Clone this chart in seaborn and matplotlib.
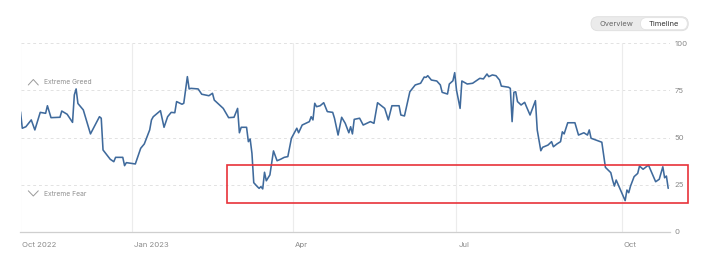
import numpy as np
import pandas as pd
import matplotlib
matplotlib.use("Agg")
import matplotlib.pyplot as plt
import matplotlib.dates as mdates
import matplotlib.transforms as mtransforms
from matplotlib.patches import Rectangle, FancyBboxPatch
import seaborn as sns

# ---------------- data ----------------
dates = [
    "2022-10-31", "2022-11-01", "2022-11-03", "2022-11-06", "2022-11-08", "2022-11-11",
    "2022-11-14", "2022-11-15", "2022-11-17", "2022-11-22", "2022-11-23", "2022-11-26",
    "2022-11-29", "2022-11-30", "2022-12-01", "2022-12-02", "2022-12-05", "2022-12-09",
    "2022-12-14", "2022-12-15", "2022-12-16", "2022-12-20", "2022-12-22", "2022-12-23",
    "2022-12-27", "2022-12-28", "2022-12-29", "2023-01-03", "2023-01-06", "2023-01-08",
    "2023-01-11", "2023-01-12", "2023-01-13", "2023-01-17", "2023-01-19", "2023-01-21",
    "2023-01-23", "2023-01-25", "2023-01-26", "2023-01-29", "2023-01-30", "2023-02-01",
    "2023-02-02", "2023-02-03", "2023-02-07", "2023-02-09", "2023-02-13", "2023-02-15",
    "2023-02-16", "2023-02-19", "2023-02-21", "2023-02-24", "2023-02-27", "2023-03-01",
    "2023-03-02", "2023-03-03", "2023-03-06", "2023-03-07", "2023-03-08", "2023-03-09",
    "2023-03-10", "2023-03-12", "2023-03-13", "2023-03-14", "2023-03-15", "2023-03-16",
    "2023-03-17", "2023-03-19", "2023-03-21", "2023-03-23", "2023-03-25", "2023-03-27",
    "2023-03-29", "2023-03-31", "2023-04-03", "2023-04-04", "2023-04-06", "2023-04-10",
    "2023-04-11", "2023-04-12", "2023-04-13", "2023-04-14", "2023-04-16", "2023-04-18",
    "2023-04-20", "2023-04-23", "2023-04-24", "2023-04-26", "2023-04-28", "2023-04-30",
    "2023-05-02", "2023-05-03", "2023-05-04", "2023-05-05", "2023-05-08", "2023-05-10",
    "2023-05-14", "2023-05-16", "2023-05-18", "2023-05-22", "2023-05-24", "2023-05-26",
    "2023-05-30", "2023-05-31", "2023-06-02", "2023-06-05", "2023-06-08", "2023-06-11",
    "2023-06-13", "2023-06-14", "2023-06-15", "2023-06-17", "2023-06-20", "2023-06-22",
    "2023-06-23", "2023-06-26", "2023-06-27", "2023-06-29", "2023-06-30", "2023-07-01",
    "2023-07-03", "2023-07-04", "2023-07-07", "2023-07-10", "2023-07-12", "2023-07-14",
    "2023-07-16", "2023-07-18", "2023-07-19", "2023-07-21", "2023-07-23", "2023-07-25",
    "2023-07-26", "2023-07-30", "2023-07-31", "2023-08-01", "2023-08-02", "2023-08-03",
    "2023-08-04", "2023-08-06", "2023-08-08", "2023-08-09", "2023-08-11", "2023-08-14",
    "2023-08-15", "2023-08-17", "2023-08-18", "2023-08-21", "2023-08-23", "2023-08-24",
    "2023-08-26", "2023-08-28", "2023-08-29", "2023-08-30", "2023-09-01", "2023-09-05",
    "2023-09-07", "2023-09-10", "2023-09-12", "2023-09-13", "2023-09-14", "2023-09-20",
    "2023-09-22", "2023-09-25", "2023-09-26", "2023-09-27", "2023-09-28", "2023-10-03",
    "2023-10-04", "2023-10-05", "2023-10-06", "2023-10-08", "2023-10-10", "2023-10-11",
    "2023-10-13", "2023-10-16", "2023-10-20", "2023-10-22", "2023-10-24", "2023-10-25",
    "2023-10-26", "2023-10-27",
]
values = [
    63.6, 54.9, 55.7, 59.3, 54.0, 63.3,
    62.8, 66.8, 60.5, 60.7, 64.0, 62.3,
    58.0, 72.5, 75.7, 68.0, 64.6, 51.9,
    61.0, 60.2, 43.4, 38.5, 37.2, 39.5,
    39.5, 35.1, 36.7, 36.0, 44.3, 46.6,
    54.0, 59.3, 61.0, 64.2, 55.4, 61.0,
    63.3, 63.1, 69.0, 67.6, 68.1, 82.2,
    75.7, 76.0, 75.7, 72.9, 72.1, 73.4,
    69.8, 67.2, 65.4, 60.5, 60.7, 65.4,
    52.5, 55.4, 55.4, 47.8, 49.2, 41.6,
    26.1, 24.0, 23.1, 24.0, 22.8, 31.6,
    27.1, 30.2, 42.9, 37.7, 38.5, 39.5,
    39.9, 49.6, 54.9, 52.5, 56.6, 58.4,
    61.0, 59.3, 68.1, 66.3, 66.8, 68.4,
    63.7, 63.3, 60.2, 51.3, 60.7, 57.5,
    52.5, 55.7, 51.9, 59.6, 60.2, 56.6,
    58.4, 57.5, 68.4, 65.4, 59.3, 66.8,
    66.8, 61.9, 61.4, 74.2, 77.8, 78.7,
    82.0, 81.8, 82.7, 80.4, 79.9, 77.8,
    73.9, 73.0, 78.3, 80.0, 84.3, 75.1,
    65.4, 79.9, 78.3, 78.7, 80.0, 81.3,
    81.0, 83.6, 82.2, 83.1, 82.7, 80.4,
    77.2, 76.6, 76.0, 58.4, 73.9, 74.2,
    69.0, 67.2, 68.6, 66.3, 61.9, 69.5,
    54.0, 43.0, 44.8, 46.0, 47.8, 45.1,
    46.6, 47.8, 53.0, 51.9, 57.8, 57.8,
    51.3, 52.5, 51.3, 54.0, 49.6, 47.5,
    34.2, 31.4, 27.5, 24.3, 27.5, 16.6,
    22.2, 20.8, 24.3, 29.3, 31.0, 34.9,
    33.2, 35.4, 26.6, 27.9, 34.5, 28.7,
    29.6, 23.1,
]
x_tick_dates = ["2022-10-31", "2023-01-01", "2023-04-01", "2023-07-01", "2023-10-01"]
x_tick_labels = ["Oct 2022", "Jan 2023", "Apr", "Jul", "Oct"]
y_ticks = [0, 25, 50, 75, 100]
x_range = ["2022-10-31", "2023-10-28"]
highlight_x = ["2023-02-23", "2023-11-07"]
highlight_y = [15.3, 35.4]

df = pd.DataFrame({"date": pd.to_datetime(dates), "value": values})

# ---------------- style ----------------
sns.set_style("white")
plt.rcParams["font.family"] = ["Inter", "DejaVu Sans"]

W, H = 708, 268
fig = plt.figure(figsize=(W / 100, H / 100), dpi=100)

# overlay axes in pixel units for decorations (drawn underneath)
deco = fig.add_axes([0, 0, 1, 1], zorder=0)
deco.set_xlim(0, W)
deco.set_ylim(H, 0)
deco.axis("off")

ax_left, ax_right, ax_top, ax_bottom = 20.5, 670.0, 43.0, 232.0
ax = fig.add_axes([ax_left / W, 1 - ax_bottom / H, (ax_right - ax_left) / W, (ax_bottom - ax_top) / H],
                  zorder=1)
ax.patch.set_alpha(0)

sns.lineplot(data=df, x="date", y="value", ax=ax, color="#3f6a9c", linewidth=1.15)

ax.set_xlim(pd.to_datetime(x_range[0]), pd.to_datetime(x_range[1]))
ax.set_ylim(0, 100)
ax.set_xlabel("")
ax.set_ylabel("")

for s in ["top", "right", "left"]:
    ax.spines[s].set_visible(False)
ax.spines["bottom"].set_color("#cfcfcf")
ax.spines["bottom"].set_linewidth(0.9)

for yv in y_ticks[1:]:
    ax.axhline(yv, color="#e2e2e2", linestyle=(0, (3, 3)), linewidth=0.7, zorder=0)

xt = pd.to_datetime(x_tick_dates)
ax.set_xticks(xt)
ax.set_xticklabels(x_tick_labels)
for d in xt:
    ax.axvline(d, color="#ececec", linewidth=0.8, zorder=0)
ax.tick_params(axis="x", length=5.5, width=0.8, color="#ececec", colors="#8a8a8a",
               labelsize=5.6, pad=2)
for lbl in ax.get_xticklabels():
    lbl.set_ha("left")
    lbl.set_transform(lbl.get_transform() + mtransforms.ScaledTranslation(2 / 100, 0, fig.dpi_scale_trans))

ax.yaxis.tick_right()
ax.set_yticks(y_ticks)
ax.set_yticklabels([str(v) for v in y_ticks])
ax.tick_params(axis="y", length=0, colors="#8a8a8a", labelsize=5.6, pad=3)
for lbl in ax.get_yticklabels():
    lbl.set_ha("left")

# Extreme greed / fear labels
deco.plot([28.3, 33.3, 38.3], [85.0, 79.5, 85.0], color="#9a9a9a", linewidth=0.7)
deco.plot([28.3, 33.3, 38.3], [190.8, 196.0, 190.8], color="#9a9a9a", linewidth=0.7)
deco.text(44, 82.5, "Extreme Greed", fontsize=4.8, color="#8f8f8f", ha="left", va="center")
deco.text(44, 193.5, "Extreme Fear", fontsize=4.8, color="#8f8f8f", ha="left", va="center")

# highlight rectangle
x0 = mdates.date2num(pd.to_datetime(highlight_x[0]))
x1 = mdates.date2num(pd.to_datetime(highlight_x[1]))
ax.add_patch(Rectangle((x0, highlight_y[0]), x1 - x0, highlight_y[1] - highlight_y[0],
                       fill=False, edgecolor="#e8323a", linewidth=1.2, clip_on=False, zorder=5))

# Overview / Timeline toggle
deco.add_patch(FancyBboxPatch((591, 16.7), 97.3, 14.0, boxstyle="round,pad=0,rounding_size=7",
                              facecolor="#ebebeb", edgecolor="#dedede", linewidth=0.6))
deco.add_patch(FancyBboxPatch((640.5, 17.7), 46.8, 12.0, boxstyle="round,pad=0,rounding_size=6",
                              facecolor="white", edgecolor="#e0e0e0", linewidth=0.5))
deco.text(616.5, 23.9, "Overview", fontsize=5.4, color="#666666", ha="center", va="center")
deco.text(664, 23.9, "Timeline", fontsize=5.4, color="#333333", ha="center", va="center")

fig.savefig("out.png", dpi=100)
